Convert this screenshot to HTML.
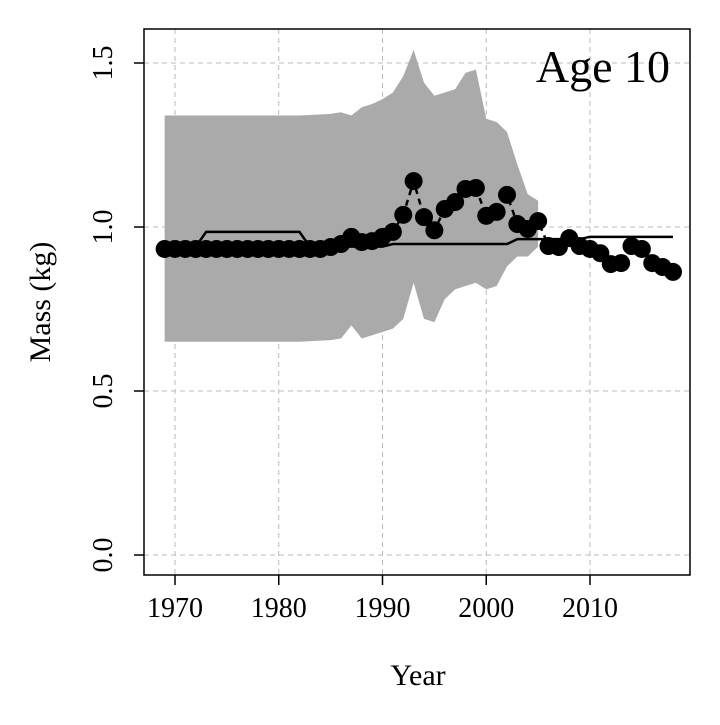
<!DOCTYPE html>
<html><head><meta charset="utf-8"><style>
body{margin:0;background:#fff}
svg text{font-family:"Liberation Serif",serif;fill:#000}
</style></head><body>
<svg id="chart" width="720" height="720">
<g id="grid"></g>
<g id="band"></g>
<g id="series"></g>
<g id="axes"></g>
<rect x="144" y="29" width="546" height="546" fill="none" stroke="#000" stroke-width="1.5"/>
<text x="670" y="82" font-size="46" text-anchor="end">Age 10</text>
<text x="418" y="685" font-size="30" text-anchor="middle">Year</text>
<text transform="translate(50,302) rotate(-90)" font-size="30" text-anchor="middle">Mass (kg)</text>
</svg>
<script>
const years=[];for(let y=1969;y<=2018;y++)years.push(y);
const observed=[0.933,0.933,0.933,0.933,0.933,0.933,0.933,0.933,0.933,0.933,0.933,0.933,0.933,0.933,0.933,0.933,0.939,0.948,0.970,0.954,0.957,0.970,0.985,1.037,1.140,1.030,0.990,1.055,1.076,1.116,1.119,1.034,1.046,1.098,1.009,0.994,1.018,0.942,0.939,0.966,0.942,0.933,0.920,0.887,0.890,0.942,0.933,0.890,0.878,0.863];
const fitted=[0.94,0.94,0.94,0.94,0.985,0.985,0.985,0.985,0.985,0.985,0.985,0.985,0.985,0.985,0.94,0.94,0.94,0.94,0.94,0.94,0.94,0.94,0.948,0.948,0.948,0.948,0.948,0.948,0.948,0.948,0.948,0.948,0.948,0.948,0.963,0.963,0.963,0.963,0.963,0.963,0.963,0.97,0.97,0.97,0.97,0.97,0.97,0.97,0.97,0.97];
const bandYears=[1969,1970,1975,1980,1982,1985,1986,1987,1988,1989,1990,1991,1992,1993,1994,1995,1996,1997,1998,1999,2000,2001,2002,2003,2004,2005];
const bandUpper=[1.34,1.34,1.34,1.34,1.34,1.345,1.35,1.34,1.365,1.375,1.39,1.41,1.46,1.54,1.44,1.40,1.41,1.42,1.47,1.48,1.33,1.32,1.29,1.19,1.10,1.08];
const bandLower=[0.65,0.65,0.65,0.65,0.65,0.655,0.66,0.70,0.66,0.67,0.68,0.69,0.72,0.83,0.72,0.71,0.78,0.81,0.82,0.83,0.81,0.82,0.88,0.91,0.91,0.94];
const xTicks=[1970,1980,1990,2000,2010];
const yTicks=[0.0,0.5,1.0,1.5];
const yTickLabels=["0.0","0.5","1.0","1.5"];
const NS="http://www.w3.org/2000/svg";
const xs=y=>175+(y-1970)*10.375;
const ys=v=>555-v*328;
function mk(t,a,p){const e=document.createElementNS(NS,t);for(const k in a)e.setAttribute(k,a[k]);p.appendChild(e);return e;}
const grid=document.getElementById('grid'),axes=document.getElementById('axes'),band=document.getElementById('band'),ser=document.getElementById('series');
xTicks.forEach(t=>{
 const l=mk('line',{x1:xs(t),x2:xs(t),y1:29,y2:575,stroke:'#bbb','stroke-dasharray':'5,4','stroke-width':1},grid);
 
 const k=mk('line',{x1:xs(t),x2:xs(t),y1:575,y2:585,stroke:'#000','stroke-width':1.5},axes);
 
 const tx=mk('text',{x:xs(t),y:617,'font-size':28,'text-anchor':'middle'},axes);tx.textContent=t;
 
});
yTicks.forEach((t,i)=>{
 const l=mk('line',{x1:144,x2:690,y1:ys(t),y2:ys(t),stroke:'#bbb','stroke-dasharray':'5,4','stroke-width':1},grid);
 
 const k=mk('line',{x1:134,x2:144,y1:ys(t),y2:ys(t),stroke:'#000','stroke-width':1.5},axes);
 
 const tx=mk('text',{transform:`translate(112,${ys(t)}) rotate(-90)`,'font-size':28,'text-anchor':'middle'},axes);tx.textContent=yTickLabels[i];
 
});
let d=bandYears.map((y,i)=>(i?'L':'M')+xs(y)+','+ys(bandUpper[i])).join('');
for(let i=bandYears.length-1;i>=0;i--)d+='L'+xs(bandYears[i])+','+ys(bandLower[i]);
const bp=mk('path',{d:d+'Z',fill:'#aaaaaa'},band);

const fl=mk('polyline',{points:years.map((y,i)=>xs(y)+','+ys(fitted[i])).join(' '),fill:'none',stroke:'#000','stroke-width':2.5},ser);

const ol=mk('polyline',{points:years.map((y,i)=>xs(y)+','+ys(observed[i])).join(' '),fill:'none',stroke:'#000','stroke-width':2.5,'stroke-dasharray':'6,5'},ser);

years.forEach((y,i)=>{
 const c=mk('circle',{cx:xs(y),cy:ys(observed[i]),r:9,fill:'#000'},ser);
 
});
</script>
</body></html>
